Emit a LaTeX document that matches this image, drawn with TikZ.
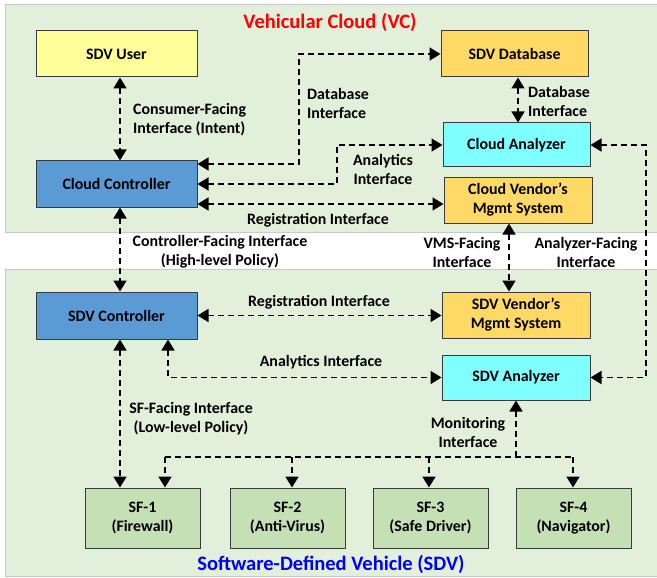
\documentclass[tikz,border=0pt]{standalone}
\usepackage{fontspec}
\setmainfont{Carlito}
\usetikzlibrary{arrows.meta,calc}
\definecolor{panelfill}{HTML}{E2EFDA}
\definecolor{panelline}{HTML}{C8C8C8}
\definecolor{boxline}{HTML}{3A3A3A}
\definecolor{cyellow}{HTML}{FFFF99}
\definecolor{cblue}{HTML}{5B9BD5}
\definecolor{corange}{HTML}{FFD966}
\definecolor{ccyan}{HTML}{80FFFF}
\definecolor{cgreen}{HTML}{C5E0B4}
\definecolor{vcred}{HTML}{FF0000}
\definecolor{sdvblue}{HTML}{0000FF}
\begin{document}
\begin{tikzpicture}[x=1pt,y=-1pt,
  every node/.style={font=\bfseries\fontsize{15.9}{19}\selectfont, text=black},
  blk/.style={draw=boxline, line width=1pt, align=center, inner sep=0pt},
  conn/.style={draw=black, line width=1.7pt, dash pattern=on 6pt off 4pt, >={Triangle[width=13pt,length=11pt]}},
  lbl/.style={align=center, inner sep=0pt},
  ttl/.style={font=\bfseries\fontsize{20.5}{24}\selectfont, inner sep=0pt}]
\useasboundingbox (0,0) rectangle (657,578);
\clip (0,0) rectangle (657,578);
\fill[white] (0,0) rectangle (657,578);
% panels
\draw[draw=panelline, fill=panelfill, line width=1pt] (5,5) rectangle (670,232);
\draw[draw=panelline, fill=panelfill, line width=1pt] (5,269) rectangle (670,576);
% titles
\node[ttl, text=vcred] (vct) at (330,22) {Vehicular Cloud (VC)};
\node[ttl, text=sdvblue] (sdvt) at (331,564) {Software-Defined Vehicle (SDV)};
% boxes
\node[blk, fill=cyellow, minimum width=161pt, minimum height=46pt] (user) at (116.5,54) {SDV User};
\node[blk, fill=cblue, minimum width=161pt, minimum height=46pt] (cc) at (116.5,184) {Cloud Controller};
\node[blk, fill=corange, minimum width=147pt, minimum height=46pt] (db) at (514.5,54) {SDV Database};
\node[blk, fill=ccyan, minimum width=147pt, minimum height=44pt] (ca) at (516.5,145) {Cloud Analyzer};
\node[blk, fill=corange, minimum width=148pt, minimum height=46pt] (cvm) at (518,200) {Cloud Vendor's\\Mgmt System};
\node[blk, fill=cblue, minimum width=161pt, minimum height=47pt] (sc) at (116.5,315.5) {SDV Controller};
\node[blk, fill=corange, minimum width=148pt, minimum height=46pt] (svm) at (516,315) {SDV Vendor's\\Mgmt System};
\node[blk, fill=ccyan, minimum width=148pt, minimum height=45pt] (sa) at (516,377.5) {SDV Analyzer};
\node[blk, fill=cgreen, minimum width=115pt, minimum height=60pt] (sf1) at (142.5,518) {SF-1\\(Firewall)};
\node[blk, fill=cgreen, minimum width=115pt, minimum height=60pt] (sf2) at (287.5,518) {SF-2\\(Anti-Virus)};
\node[blk, fill=cgreen, minimum width=115pt, minimum height=60pt] (sf3) at (430.5,518) {SF-3\\(Safe Driver)};
\node[blk, fill=cgreen, minimum width=115pt, minimum height=60pt] (sf4) at (573.5,518) {SF-4\\(Navigator)};
% helper coordinates
\coordinate (dbk) at (299,54);
\coordinate (ank) at (337,145);
\coordinate (r1) at ([yshift=-20pt]cc.east);
\coordinate (vx) at (509,0);
\coordinate (dx) at (518,0);
\coordinate (ax) at (646,0);
\coordinate (ax2) at (168,0);
\coordinate (x120) at (120,0);
\coordinate (mb) at (516,457);
\coordinate (b1) at (165,457);
\coordinate (b2) at (292,457);
\coordinate (b3) at (429,457);
\coordinate (b4) at (573,457);
% connectors
\draw[conn,<->] (user.south -| x120) -- (cc.north -| x120);
\draw[conn,<->] ([yshift=20pt]cc.east) -| (dbk) -- (db.west);
\draw[conn,<->] (db.south -| dx) -- (ca.north -| dx);
\draw[conn,<->] (cc.east) -| (ank) -- (ca.west);
\draw[conn,<->] (r1) -- (r1 -| cvm.west);
\draw[conn,<->] (cc.south -| x120) -- (sc.north -| x120);
\draw[conn,<->] (cvm.south -| vx) -- (svm.north -| vx);
\draw[conn,<->] (ca.east) -- (ca.east -| ax) |- (sa.east);
\draw[conn,<->] (sc.east) -- (sc.east -| svm.west);
\draw[conn,<->] (sc.south -| ax2) |- (sa.west);
\draw[conn,<->] (sc.south -| x120) -- (sf1.north -| x120);
\draw[conn,->] (mb) -- (sa.south -| mb);
\draw[conn] (b1) -- (b4);
\draw[conn,->] (b1) -- (b1 |- sf1.north);
\draw[conn,->] (b2) -- (b2 |- sf2.north);
\draw[conn,->] (b3) -- (b3 |- sf3.north);
\draw[conn,->] (b4) -- (b4 |- sf4.north);
% labels
\node[lbl, anchor=west, align=left] (l1) at (133,119.5) {Consumer-Facing\\Interface (Intent)};
\node[lbl, anchor=west, align=left] (l2) at (307,103.5) {Database\\Interface};
\node[lbl, anchor=west, align=left] (l3) at (528,101.5) {Database\\Interface};
\node[lbl] (l4) at (383,169.5) {Analytics\\Interface};
\node[lbl] (l5) at (318,220) {Registration Interface};
\node[lbl] (l6) at (220,252) {Controller-Facing Interface\\(High-level Policy)};
\node[lbl] (l7) at (462,252) {VMS-Facing\\Interface};
\node[lbl] (l8) at (586,252) {Analyzer-Facing\\Interface};
\node[lbl] (l9) at (319,302) {Registration Interface};
\node[lbl] (l10) at (321,362) {Analytics Interface};
\node[lbl] (l11) at (191,418.5) {SF-Facing Interface\\(Low-level Policy)};
\node[lbl] (l12) at (468,432) {Monitoring\\Interface};
\end{tikzpicture}
\end{document}
